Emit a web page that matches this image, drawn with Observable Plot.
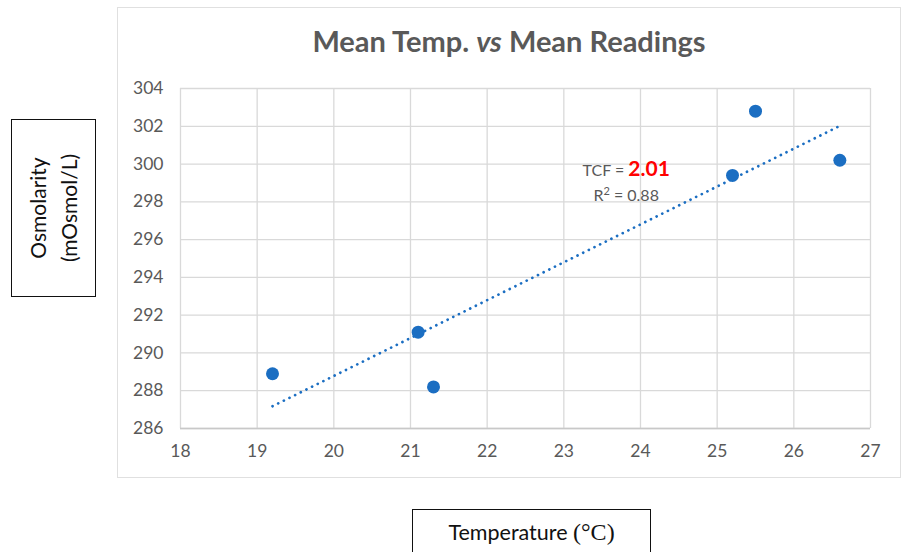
<!DOCTYPE html>
<html>
<head>
<meta charset="utf-8">
<script src="https://cdn.jsdelivr.net/npm/d3@7"></script>
<script src="https://cdn.jsdelivr.net/npm/@observablehq/plot@0.6"></script>
<style>
  html, body { margin: 0; padding: 0; background: #fff; }
  #wrap { position: relative; width: 904px; height: 552px; overflow: hidden; font-family: Lato, "Open Sans", sans-serif; }
  #wrap svg { position: absolute; left: 0; top: 0; }
  .frame { position: absolute; left: 117px; top: 7px; width: 784px; height: 471px; border: 1.5px solid #e0e0e0; box-sizing: border-box; }
  .title { position: absolute; left: 117px; width: 784px; top: 23px; text-align: center; font-weight: bold; font-size: 29px; color: #595959; }
  .ybox { position: absolute; left: 11px; top: 119px; width: 85px; height: 178px; border: 1.5px solid #111; box-sizing: border-box; }
  .ylab { position: absolute; left: 53px; top: 208px; transform: translate(-50%, -50%) rotate(-90deg); text-align: center; font-size: 21px; line-height: 31px; color: #111; white-space: nowrap; }
  .xbox { position: absolute; left: 412px; top: 509px; width: 239px; height: 60px; border: 1.5px solid #111; box-sizing: border-box; }
  .xlab { position: absolute; left: 412px; width: 239px; top: 519px; text-align: center; font-size: 21.5px; color: #111; white-space: nowrap; }
  .serif { font-family: "Liberation Serif", "DejaVu Serif", serif; font-size: 24px; }
  .ann { position: absolute; transform: translate(-50%, 0); text-align: center; color: #595959; font-size: 16px; line-height: 25px; white-space: nowrap; }
  .ann b { color: #ff0000; font-size: 21px; }
</style>
</head>
<body>
<div id="wrap"></div>
<script>
// Data
const temperature = [19.2, 21.1, 21.3, 25.2, 25.5, 26.6];
const osmolarity  = [288.9, 291.1, 288.2, 299.4, 302.8, 300.2];
const xTicks = [18, 19, 20, 21, 22, 23, 24, 25, 26, 27];
const yTicks = [286, 288, 290, 292, 294, 296, 298, 300, 302, 304];
const titleText = "Mean Temp. <i>vs</i> Mean Readings";
const tcfValue = "2.01";
const r2Value = "0.88";
const annotationAt = [23.82, 300.45]; // data-space anchor of annotation

const points = temperature.map((t, i) => ({t, o: osmolarity[i]}));
const blue = "#1b6ec2";

const chart = Plot.plot({
  width: 904,
  height: 552,
  marginLeft: 180,
  marginRight: 34,
  marginTop: 88,
  marginBottom: 124,
  style: {fontFamily: "Lato, 'Open Sans', sans-serif", fontSize: "17px", color: "#595959", background: "transparent"},
  x: {domain: [18, 27], ticks: xTicks},
  y: {domain: [286, 304], ticks: yTicks},
  marks: [
    Plot.gridX(xTicks, {stroke: "#d9d9d9", strokeOpacity: 1, strokeWidth: 1.3}),
    Plot.gridY(yTicks, {stroke: "#d9d9d9", strokeOpacity: 1, strokeWidth: 1.3}),
    Plot.ruleY([286], {stroke: "#c8c8c8", strokeWidth: 1.5}),
    Plot.axisX(xTicks, {tickSize: 0, tickPadding: 16, fontSize: 17.5, label: null, fill: "#595959"}),
    Plot.axisY(yTicks, {tickSize: 0, tickPadding: 17, fontSize: 17.5, label: null, fill: "#595959"}),
    Plot.linearRegressionY(points, {x: "t", y: "o", ci: 0, stroke: blue, strokeWidth: 2.7, strokeDasharray: "0.1 6.2", strokeLinecap: "round"}),
    Plot.dot(points, {x: "t", y: "o", r: 6.5, fill: blue, stroke: "none"})
  ]
});

const wrap = document.getElementById("wrap");
wrap.appendChild(chart);

const frame = document.createElement("div"); frame.className = "frame"; wrap.appendChild(frame);
const title = document.createElement("div"); title.className = "title"; title.innerHTML = titleText; wrap.appendChild(title);

const ybox = document.createElement("div"); ybox.className = "ybox"; wrap.appendChild(ybox);
const ylab = document.createElement("div"); ylab.className = "ylab"; ylab.innerHTML = "Osmolarity<br>(mOsmol/L)"; wrap.appendChild(ylab);

const xbox = document.createElement("div"); xbox.className = "xbox"; wrap.appendChild(xbox);
const xlab = document.createElement("div"); xlab.className = "xlab"; xlab.innerHTML = 'Temperature <span class="serif">(°C)</span>'; wrap.appendChild(xlab);

const sx = chart.scale("x"), sy = chart.scale("y");
const ann = document.createElement("div"); ann.className = "ann";
ann.style.left = sx.apply(annotationAt[0]) + "px";
ann.style.top = sy.apply(annotationAt[1]) + "px";
ann.innerHTML = 'TCF = <b>' + tcfValue + '</b><br>R<sup style="font-size:11px;line-height:0">2</sup> = ' + r2Value;
wrap.appendChild(ann);
</script>
</body>
</html>
